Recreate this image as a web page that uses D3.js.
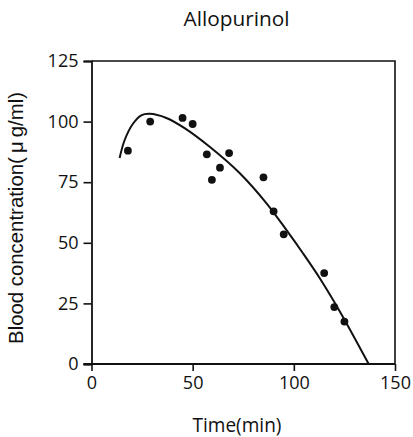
<!DOCTYPE html>
<html>
<head>
<meta charset="utf-8">
<script src="https://cdn.jsdelivr.net/npm/d3@7"></script>
<style>
  html, body { margin: 0; padding: 0; background: #fff; }
  svg { display: block; }
  text { font-family: "Open Sans", "DejaVu Sans", sans-serif; fill: #111; }
</style>
</head>
<body>
<svg id="chart" width="413" height="437"></svg>
<script>
// Measured blood concentrations (µg/ml) at sampling times (min)
const sampleTimes = [18, 29, 45, 50, 57, 59.5, 63.5, 68, 85, 90, 95, 115, 120, 125];
const sampleConc  = [88, 100, 101.5, 99, 86.5, 76, 81, 87, 77, 63, 53.5, 37.5, 23.5, 17.5];

// Fitted curve, sampled along its length
const fitTimes = [13.9, 16.3, 20.4, 24.6, 28.7, 37, 46, 58.4, 73.3, 86.5, 96.4, 104.5, 112.9, 122.8, 137];
const fitConc  = [85, 92.2, 99, 102.6, 103.2, 101.5, 97.3, 89.6, 78.7, 66.3, 55.2, 45.7, 35.3, 21.6, 0];

const xTicks = [0, 50, 100, 150];
const yTicks = [0, 25, 50, 75, 100, 125];

const titleText = "Allopurinol";
const xTitle = "Time(min)";
const yTitle = "Blood concentration(\u2009\u03bc\u2009g/ml)";

const svg = d3.select("#chart");
const plotLeft = 91.5, plotRight = 395, plotTop = 61, plotBottom = 364;

const x = d3.scaleLinear().domain([0, 150]).range([plotLeft, plotRight]);
const y = d3.scaleLinear().domain([0, 125]).range([plotBottom, plotTop]);

// Frame (top and right sides)
svg.append("path")
  .attr("d", `M${plotLeft},${plotTop}H${plotRight}V${plotBottom}`)
  .attr("fill", "none").attr("stroke", "#111").attr("stroke-width", 1.6);

// Axes
const xAxis = svg.append("g").attr("transform", `translate(0,${plotBottom})`)
  .call(d3.axisBottom(x).tickValues(xTicks).tickSize(7).tickPadding(3));
const yAxis = svg.append("g").attr("transform", `translate(${plotLeft},0)`)
  .call(d3.axisLeft(y).tickValues(yTicks).tickSize(8).tickPadding(5));

[xAxis, yAxis].forEach(g => {
  g.select(".domain").attr("stroke", "#111").attr("stroke-width", 1.8);
  g.selectAll(".tick line").attr("stroke", "#111").attr("stroke-width", 1.6);
  g.selectAll(".tick text")
    .style("font-family", '"Open Sans", "DejaVu Sans", sans-serif')
    .style("font-size", "18px").attr("fill", "#111");
});
xAxis.select(".domain").attr("d", `M${plotLeft - 8},0H${plotRight}`);
xAxis.selectAll(".tick text").attr("dy", "0.85em");

// Fitted curve
const line = d3.line()
  .x((d, i) => x(fitTimes[i]))
  .y(d => y(d))
  .curve(d3.curveCatmullRom.alpha(0.5));
svg.append("path")
  .datum(fitConc)
  .attr("d", line)
  .attr("fill", "none").attr("stroke", "#111").attr("stroke-width", 2);

// Data points
svg.append("g").selectAll("circle")
  .data(sampleConc)
  .join("circle")
  .attr("cx", (d, i) => x(sampleTimes[i]))
  .attr("cy", d => y(d))
  .attr("r", 3.9)
  .attr("fill", "#111");

// Scale a label's font size so it spans the wanted width
function fitText(sel, width) {
  const fs = parseFloat(sel.style("font-size"));
  const w = sel.node().getComputedTextLength();
  sel.style("font-size", (fs * width / w).toFixed(2) + "px");
}

// Titles
const title = svg.append("text")
  .attr("x", 236.5).attr("y", 26)
  .attr("text-anchor", "middle")
  .style("font-size", "20px")
  .style("font-weight", 500)
  .text(titleText);
fitText(title, 106);

const xt = svg.append("text")
  .attr("x", 237).attr("y", 432)
  .attr("text-anchor", "middle")
  .style("font-size", "18px")
  .text(xTitle);
fitText(xt, 89);

const yt = svg.append("text")
  .attr("transform", "translate(23,218) rotate(-90)")
  .attr("text-anchor", "middle")
  .style("font-family", '"Liberation Sans", Arial, sans-serif')
  .style("font-size", "16px")
  .text(yTitle);
fitText(yt, 252);
</script>
</body>
</html>
